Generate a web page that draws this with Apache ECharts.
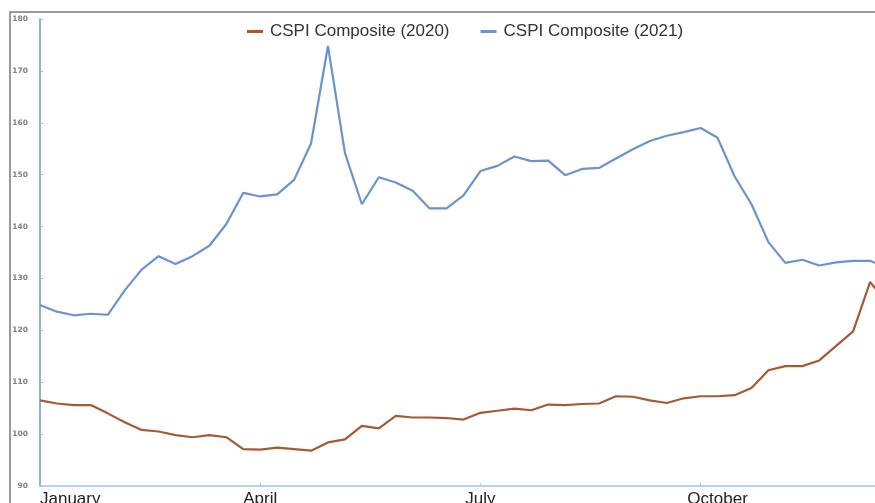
<!DOCTYPE html>
<html>
<head>
<meta charset="utf-8">
<script src="https://cdn.jsdelivr.net/npm/echarts@6/dist/echarts.min.js"></script>
<style>
html, body { margin: 0; padding: 0; background: #fff; }
#chart { width: 875px; height: 503px; }
</style>
</head>
<body>
<div id="chart"></div>
<script>
// weekly points, index 0 = first week of January
var weeks = [];
for (var w = 0; w < 51; w++) { weeks.push('W' + (w + 1)); }
var quarterLabels = { 0: 'January', 13: 'April', 26: 'July', 40: 'October' };
var quarterTicks = [13, 26, 39];
var yTicks = [90, 100, 110, 120, 130, 140, 150, 160, 170, 180];

var cspi2020 = [106.5, 105.9, 105.6, 105.6, 104.0, 102.3, 100.8, 100.5, 99.8, 99.4,
	99.8, 99.4, 97.1, 97.0, 97.4, 97.1, 96.8, 98.4, 99.0, 101.6,
	101.1, 103.5, 103.2, 103.2, 103.1, 102.8, 104.1, 104.5, 104.9, 104.6,
	105.7, 105.6, 105.8, 105.9, 107.3, 107.2, 106.5, 106.0, 106.9, 107.3,
	107.3, 107.5, 108.9, 112.3, 113.1, 113.1, 114.2, 117.0, 119.8, 129.3,
	125.4];
var cspi2021 = [124.9, 123.6, 122.9, 123.2, 123.0, 127.7, 131.7, 134.3, 132.8, 134.3,
	136.3, 140.5, 146.5, 145.8, 146.2, 149.0, 156.0, 174.8, 154.2, 144.3,
	149.5, 148.5, 146.9, 143.5, 143.5, 146.0, 150.7, 151.7, 153.5, 152.6,
	152.7, 149.9, 151.1, 151.3, 153.1, 154.9, 156.5, 157.5, 158.2, 159.0,
	157.1, 149.7, 144.3, 137.0, 133.0, 133.6, 132.5, 133.1, 133.4, 133.4,
	132.0];

var myChart = echarts.init(document.getElementById('chart'));
var option = {
	backgroundColor: '#fff',
	animation: false,
	graphic: [{
		type: 'rect',
		shape: { x: 10, y: 12, width: 900, height: 540 },
		style: { fill: 'none', stroke: '#7a7a7a', lineWidth: 1.5 },
		z: 100
	}],
	legend: {
		left: 242,
		top: 18,
		itemWidth: 16,
		itemHeight: 3,
		itemGap: 31,
		icon: 'rect',
		textStyle: {
			fontFamily: 'Liberation Sans',
			fontSize: 17,
			color: '#333',
			padding: [0, 0, 0, 2]
		},
		data: ['CSPI Composite (2020)', 'CSPI Composite (2021)']
	},
	grid: {
		left: 40,
		width: 847, // last week runs past the right edge, as in the source
		top: 19,
		bottom: 17,
		outerBoundsMode: 'none',
		containLabel: false
	},
	xAxis: {
		type: 'category',
		boundaryGap: false,
		data: weeks,
		axisLine: { lineStyle: { color: '#a9c1e0', width: 1.5 } },
		axisTick: {
			interval: function(i) { return quarterTicks.indexOf(i) >= 0; },
			length: 3,
			inside: true,
			lineStyle: { color: '#b8c8dc' }
		},
		axisLabel: {
			interval: function(i) { return quarterLabels[i] !== undefined; },
			formatter: function(v, i) { return quarterLabels[i] || ''; },
			alignMinLabel: 'left',
			fontFamily: 'Liberation Sans',
			fontSize: 17,
			color: '#222',
			margin: 5
		},
		splitLine: { show: false }
	},
	yAxis: {
		type: 'value',
		min: yTicks[0],
		max: yTicks[yTicks.length - 1],
		interval: 10,
		axisLine: { show: true, lineStyle: { color: '#8fb0d8', width: 2 } },
		axisTick: { show: true, inside: true, length: 3, lineStyle: { color: '#a7b9cf' } },
		axisLabel: {
			fontFamily: 'DejaVu Sans',
			fontSize: 7.5,
			fontWeight: 'bold',
			color: '#808080',
			margin: 12
		},
		splitLine: { show: false }
	},
	series: [{
		name: 'CSPI Composite (2020)',
		type: 'line',
		data: cspi2020,
		symbol: 'none',
		lineStyle: { width: 2.2, color: '#a65a34' },
		itemStyle: { color: '#a65a34' }
	}, {
		name: 'CSPI Composite (2021)',
		type: 'line',
		data: cspi2021,
		symbol: 'none',
		lineStyle: { width: 2.2, color: '#6a93cf' },
		itemStyle: { color: '#6a93cf' }
	}]
};
myChart.setOption(option);
</script>
</body>
</html>
